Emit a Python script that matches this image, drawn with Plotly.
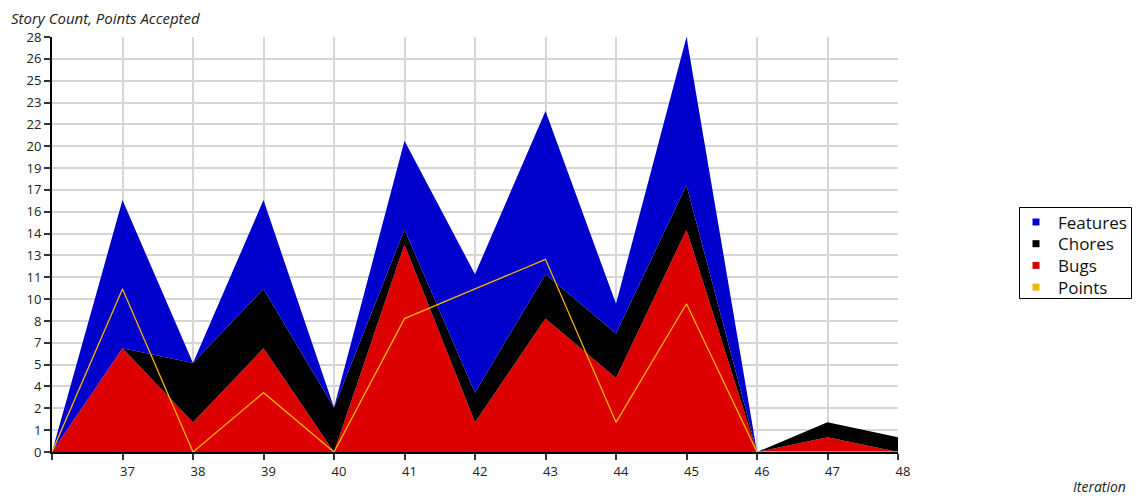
import plotly.graph_objects as go

# Accepted work per iteration
iterations = [36, 37, 38, 39, 40, 41, 42, 43, 44, 45, 46, 47, 48]
bugs = [0, 7, 2, 7, 0, 14, 2, 9, 5, 15, 0, 1, 0]
chores = [0, 0, 4, 4, 3, 1, 2, 3, 3, 3, 0, 1, 1]
features = [0, 10, 0, 6, 0, 6, 8, 11, 2, 10, 0, 0, 0]
points = [0, 11, 0, 4, 0, 9, 11, 13, 2, 10, 0, 0, 0]

x_tick_labels = ["", "37", "38", "39", "40", "41", "42", "43", "44", "45", "46", "47", "48"]
y_tick_labels = ["0", "1", "2", "4", "5", "7", "8", "10", "11", "13", "14",
                 "16", "17", "19", "20", "22", "23", "25", "26", "28"]
y_max = 28
legend_names = ["Features", "Chores", "Bugs", "Points"]

COLORS = {"Features": "#0000CC", "Chores": "#000000", "Bugs": "#DD0000", "Points": "#F5B400"}
FONT = "Open Sans, DejaVu Sans, sans-serif"

# Page geometry (pixels)
W, H = 1136, 498
ML, MR, MT, MB = 52, 238, 37, 46
PW, PH = W - ML - MR, H - MT - MB


def px(x):
    return (x - ML) / PW


def py(y):
    return (H - MB - y) / PH


fig = go.Figure()

# Stacked areas: bugs at the bottom, then chores, then features
for name, vals in [("Bugs", bugs), ("Chores", chores), ("Features", features)]:
    fig.add_trace(go.Scatter(
        x=iterations, y=vals, name=name, mode="lines",
        stackgroup="work", line=dict(width=0, color=COLORS[name]),
        fillcolor=COLORS[name], showlegend=False,
    ))

fig.add_trace(go.Scatter(
    x=iterations, y=points, name="Points", mode="lines",
    line=dict(width=1.3, color=COLORS["Points"]), showlegend=False,
))

n = len(y_tick_labels)
y_tick_vals = [y_max * k / (n - 1) for k in range(n)]

# Boxed legend to the right of the plot
shapes = [dict(type="rect", xref="paper", yref="paper",
               x0=px(1019.5), x1=px(1131.5), y0=py(207.5), y1=py(298.5),
               line=dict(color="#000000", width=1), fillcolor="white")]
annotations = []
for i, name in enumerate(legend_names):
    cy = 222 + i * 21.7
    shapes.append(dict(type="rect", xref="paper", yref="paper",
                       x0=px(1032.5), x1=px(1039.5), y0=py(cy - 3.5), y1=py(cy + 3.5),
                       line=dict(width=0), fillcolor=COLORS[name]))
    annotations.append(dict(text=name, xref="paper", yref="paper",
                            x=px(1056), y=py(cy), xanchor="left", yanchor="middle",
                            showarrow=False, font=dict(size=17, color="#111111")))

annotations += [
    dict(text="<i>Story Count, Points Accepted</i>", xref="paper", yref="paper",
         x=px(9), y=py(18), xanchor="left", yanchor="middle",
         showarrow=False, font=dict(size=15, color="#222222")),
    dict(text="<i>Iteration</i>", xref="paper", yref="paper",
         x=px(1128), y=py(486), xanchor="right", yanchor="middle",
         showarrow=False, font=dict(size=14, color="#222222")),
]

fig.update_layout(
    width=W, height=H,
    margin=dict(l=ML, r=MR, t=MT, b=MB),
    paper_bgcolor="white", plot_bgcolor="white",
    font=dict(family=FONT, size=13, color="#222222"),
    showlegend=False,
    xaxis=dict(
        range=[36, 48], tickvals=iterations, ticktext=x_tick_labels,
        showgrid=True, gridcolor="#d6d6d6", gridwidth=2,
        showline=True, linecolor="#000000", linewidth=2,
        ticks="outside", ticklen=6, tickwidth=2, tickcolor="#333333",
        ticklabelshift=5, zeroline=False,
    ),
    yaxis=dict(
        range=[0, y_max], tickvals=y_tick_vals, ticktext=y_tick_labels,
        showgrid=True, gridcolor="#d6d6d6", gridwidth=2,
        showline=True, linecolor="#000000", linewidth=2,
        ticks="outside", ticklen=6, tickwidth=1.5, tickcolor="#333333",
        zeroline=False,
    ),
    shapes=shapes,
    annotations=annotations,
)

fig.write_html("out.html")
